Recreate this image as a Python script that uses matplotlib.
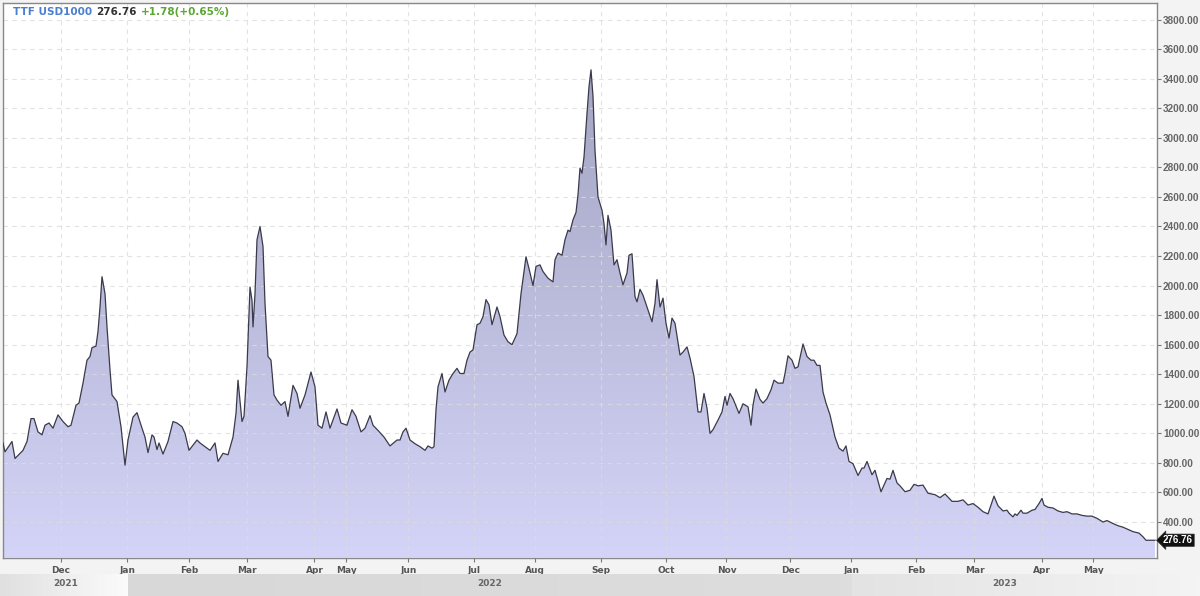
import numpy as np
import matplotlib.pyplot as plt
from matplotlib.colors import LinearSegmentedColormap

# sesiones (indice de barra) y precio de cierre
bars = [0, 2, 9, 12, 20, 24, 28, 31, 35, 39, 42, 46, 50, 55, 60, 65, 68, 73, 76, 80,
        84, 87, 89, 93, 95, 97, 99, 102, 104, 107, 109, 114, 118, 122, 125, 130, 134, 139, 142, 145,
        149, 151, 154, 156, 160, 165, 170, 174, 179, 182, 186, 194, 197, 202, 207, 212, 215, 220, 225, 230,
        233, 235, 239, 241, 244, 247, 249, 250, 252, 254, 257, 260, 262, 265, 268, 271, 274, 278, 282, 285,
        290, 294, 297, 302, 308, 312, 315, 319, 323, 327, 334, 338, 344, 349, 353, 358, 362, 367, 370, 375,
        381, 387, 394, 397, 400, 403, 407, 412, 417, 422, 425, 429, 431, 433, 435, 439, 442, 446, 450, 454,
        457, 461, 464, 467, 470, 474, 477, 480, 483, 486, 489, 494, 497, 501, 505, 509, 514, 518, 523, 526,
        530, 533, 537, 540, 545, 550, 552, 555, 559, 562, 565, 567, 570, 573, 575, 577, 579, 581, 584, 586,
        588, 590, 592, 595, 599, 601, 603, 605, 608, 611, 614, 617, 620, 624, 626, 629, 632, 634, 637, 640,
        645, 649, 652, 654, 657, 660, 663, 666, 669, 672, 677, 680, 684, 687, 691, 695, 698, 701, 704, 707,
        710, 715, 719, 722, 724, 727, 730, 736, 740, 745, 748, 750, 753, 757, 760, 764, 768, 771, 775, 780,
        782, 785, 789, 792, 795, 800, 804, 808, 811, 814, 817, 820, 823, 827, 832, 836, 840, 843, 846, 850,
        855, 859, 861, 864, 869, 872, 878, 884, 887, 890, 894, 897, 902, 907, 911, 915, 920, 925, 932, 937,
        942, 949, 955, 960, 965, 970, 975, 980, 985, 991, 995, 1000, 1004, 1006, 1010, 1012, 1014, 1018, 1020, 1024,
        1029, 1032, 1036, 1039, 1041, 1045, 1050, 1055, 1060, 1064, 1069, 1074, 1079, 1084, 1089, 1094, 1100, 1104, 1110, 1115,
        1120, 1125, 1130, 1136, 1140, 1143, 1152]
price = [935, 875, 945, 830, 885, 945, 1100, 1100, 1010, 990, 1055, 1070, 1035, 1125, 1080, 1045, 1055, 1190, 1205, 1340,
         1495, 1520, 1580, 1590, 1690, 1855, 2060, 1945, 1720, 1430, 1260, 1215, 1045, 785, 955, 1110, 1140, 1035, 975, 870,
         990, 975, 890, 935, 860, 945, 1080, 1070, 1045, 1000, 885, 955, 935, 910, 885, 935, 810, 865, 855, 975,
         1135, 1360, 1080, 1115, 1450, 1990, 1900, 1720, 1945, 2310, 2400, 2265, 1880, 1520, 1495, 1260, 1225, 1190, 1215, 1115,
         1325, 1270, 1170, 1260, 1415, 1315, 1055, 1035, 1145, 1035, 1165, 1070, 1055, 1160, 1115, 1010, 1035, 1120, 1055, 1020,
         975, 915, 955, 955, 1010, 1035, 955, 930, 910, 885, 915, 900, 910, 1160, 1315, 1405, 1280, 1360, 1405, 1440,
         1405, 1405, 1495, 1550, 1565, 1735, 1745, 1790, 1905, 1870, 1735, 1855, 1790, 1665, 1620, 1600, 1675, 1945, 2195, 2115,
         2000, 2130, 2140, 2095, 2050, 2025, 2175, 2220, 2205, 2310, 2375, 2365, 2445, 2495, 2615, 2795, 2760, 2870, 3165, 3345,
         3460, 3280, 2915, 2600, 2510, 2420, 2275, 2475, 2375, 2140, 2175, 2085, 2005, 2085, 2205, 2215, 1925, 1890, 1975, 1935,
         1835, 1755, 1880, 2040, 1855, 1915, 1745, 1645, 1780, 1745, 1530, 1550, 1585, 1510, 1385, 1145, 1145, 1270, 1170, 1000,
         1025, 1090, 1145, 1250, 1190, 1270, 1235, 1135, 1200, 1180, 1055, 1190, 1300, 1230, 1205, 1235, 1295, 1360, 1340, 1340,
         1405, 1525, 1495, 1440, 1450, 1605, 1520, 1495, 1495, 1460, 1460, 1280, 1205, 1125, 975, 900, 880, 915, 810, 795,
         715, 765, 765, 810, 720, 750, 605, 695, 690, 750, 665, 645, 605, 615, 655, 645, 650, 595, 585, 565,
         590, 540, 540, 550, 515, 525, 500, 470, 455, 575, 510, 475, 480, 460, 435, 455, 445, 480, 460, 460,
         480, 485, 525, 560, 515, 500, 495, 475, 465, 470, 455, 455, 445, 440, 440, 425, 400, 410, 390, 375,
         365, 350, 335, 325, 300, 276.76, 276.76]

mes_pos = [58, 124.5, 186.5, 244, 311.5, 343.5, 405.5, 471, 532, 598, 663, 723.5,
           787.5, 848.5, 913, 971.5, 1039, 1090.5]
mes_lbl = ['Dec', 'Jan', 'Feb', 'Mar', 'Apr', 'May', 'Jun', 'Jul', 'Aug', 'Sep', 'Oct', 'Nov',
           'Dec', 'Jan', 'Feb', 'Mar', 'Apr', 'May']
anio_lbl = ['2021', '2022', '2023']
ultimo = 276.76
cambio = 1.78
cambio_pct = 0.65

x_fin = 1154.5
y_min, y_max = 160, 3912

fig = plt.figure(figsize=(12, 5.96), dpi=100, facecolor='#f3f3f3')
ax = fig.add_axes([3/1200, 1 - 557.5/596, x_fin/1200, 554.5/596])
ax.set_facecolor('white')
ax.set_xlim(0, x_fin)
ax.set_ylim(y_min, y_max)

# relleno con degradado, recortado por el area bajo la curva
area = ax.fill_between(bars, price, y_min, color='none', lw=0)
cmap = LinearSegmentedColormap.from_list('lila', ['#d4d4f8', '#a4a4c2'])
grad = np.linspace(0, 1, 256).reshape(-1, 1)
im = ax.imshow(grad, extent=[0, x_fin, y_min, 3500], origin='lower', aspect='auto',
               cmap=cmap, zorder=1)
im.set_clip_path(area.get_paths()[0], transform=ax.transData)
ax.plot(bars, price, color='#3a3a4a', lw=0.9, zorder=3)

ax.set_yticks(np.arange(400, 3801, 200))
ax.set_yticklabels(['%.2f' % v for v in np.arange(400, 3801, 200)])
ax.yaxis.tick_right()
ax.set_xticks(mes_pos)
ax.set_xticklabels(mes_lbl)
ax.grid(True, ls=(0, (4, 4)), color='#dcdcdc', lw=0.8, alpha=0.8)
ax.tick_params(axis='y', direction='out', length=3, color='#777', labelsize=7.2,
               labelcolor='#666', pad=1)
ax.tick_params(axis='x', direction='out', length=3, color='#777', labelsize=6.5,
               labelcolor='#555', pad=3)
for t in ax.get_yticklabels():
    t.set_fontweight('bold')
    t.set_fontfamily('Liberation Sans')
for t in ax.get_xticklabels():
    t.set_fontweight('bold')
for s in ax.spines.values():
    s.set_color('#888')
    s.set_linewidth(1)

# etiqueta del ultimo valor
ax.annotate('%.2f' % ultimo, xy=(1.0, ultimo), xycoords=('axes fraction', 'data'),
            xytext=(4, 0), textcoords='offset points', ha='left', va='center',
            fontsize=7, fontweight='bold', family='Liberation Sans', color='white',
            annotation_clip=False,
            bbox=dict(boxstyle='larrow,pad=0.12', fc='#111', ec='#333', lw=0.5))

# leyenda superior
t1 = fig.text(13/1200, 1 - 12/596, 'TTF USD1000', color='#4a7fd0', fontsize=7.5,
              fontweight='bold', va='center')
t2 = ax.annotate('%.2f' % ultimo, xy=(1, 0.5), xycoords=t1, xytext=(3, 0),
                 textcoords='offset points', va='center', color='#333', fontsize=7.5,
                 fontweight='bold')
ax.annotate('+%.2f(+%.2f%%)' % (cambio, cambio_pct), xy=(1, 0.5), xycoords=t2,
            xytext=(3, 0), textcoords='offset points', va='center', color='#5aa832',
            fontsize=7.5, fontweight='bold')

# banda de años
bax = fig.add_axes([0, 0, 1, 22/596])
bordes = [0, mes_pos[1], mes_pos[13], x_fin]
tonos = [('#e0e0e0', '#fbfbfb'), ('#d8d8d8', '#dddddd'), ('#e3e3e3', '#f4f4f4')]
lims = [-3, mes_pos[1], mes_pos[13], 1197]
for i in range(3):
    cm = LinearSegmentedColormap.from_list('b%d' % i, list(tonos[i]))
    bax.imshow(np.linspace(0, 1, 64).reshape(1, -1), extent=[lims[i], lims[i+1], 0, 1],
               aspect='auto', cmap=cm)
    bax.text((bordes[i] + bordes[i+1]) / 2, 0.55, anio_lbl[i], ha='center', va='center',
             fontsize=6.5, fontweight='bold', color='#666')
bax.set_xlim(-3, 1197)
bax.set_ylim(0, 1)
bax.axis('off')

plt.savefig('out.png', dpi=100, facecolor=fig.get_facecolor())
